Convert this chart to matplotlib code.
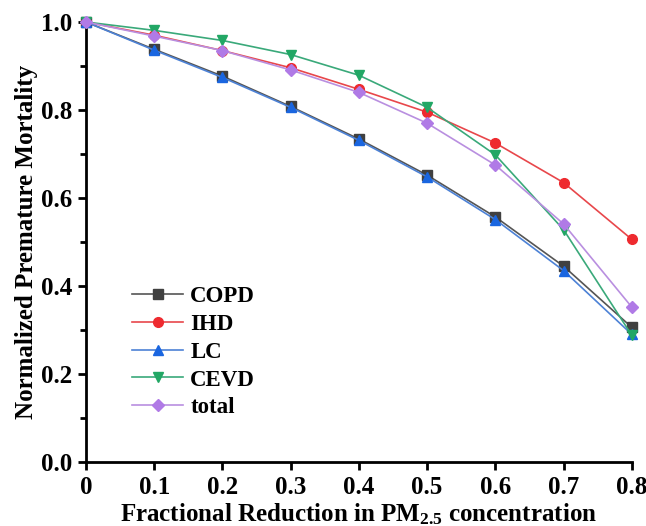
import matplotlib
matplotlib.use("Agg")
import matplotlib.pyplot as plt
from matplotlib.ticker import MultipleLocator

x = [0, 0.1, 0.2, 0.3, 0.4, 0.5, 0.6, 0.7, 0.8]
copd = [1.0, 0.938, 0.877, 0.808, 0.734, 0.652, 0.557, 0.445, 0.306]
ihd = [1.0, 0.970, 0.935, 0.896, 0.847, 0.795, 0.725, 0.635, 0.506]
lc = [1.0, 0.936, 0.874, 0.806, 0.731, 0.648, 0.551, 0.435, 0.290]
cevd = [1.0, 0.981, 0.958, 0.926, 0.879, 0.806, 0.698, 0.528, 0.288]
total = [1.0, 0.968, 0.935, 0.891, 0.840, 0.770, 0.675, 0.541, 0.352]

plt.rcParams['font.family'] = ['Liberation Serif', 'DejaVu Serif']
plt.rcParams['font.weight'] = 'bold'
plt.rcParams['mathtext.fontset'] = 'custom'
plt.rcParams['mathtext.rm'] = 'Liberation Serif:bold'
plt.rcParams['mathtext.bf'] = 'Liberation Serif:bold'
plt.rcParams['mathtext.it'] = 'Liberation Serif:bold'

fig = plt.figure(figsize=(6.46, 5.26), dpi=100)
ax = fig.add_axes([0.133, 0.1217, 0.845, 0.8365])

series = [
    ("COPD", copd, 's', '#555555', '#404040'),
    ("IHD", ihd, 'o', '#e8474b', '#ee2a2f'),
    ("LC", lc, '^', '#4d82d6', '#1a66e0'),
    ("CEVD", cevd, 'v', '#3aa97a', '#22a765'),
    ("total", total, 'D', '#b98fe0', '#b07ae6'),
]
for name, y, m, lcol, mcol in series:
    ax.plot(x, y, marker=m, color=lcol, markerfacecolor=mcol, markeredgecolor=mcol,
            lw=1.2, ms=7 if m != 'D' else 6, label=name, clip_on=False, zorder=3)

ax.set_xlim(0, 0.8)
ax.set_ylim(0, 1.0)
ax.yaxis.set_major_locator(MultipleLocator(0.2))
ax.yaxis.set_minor_locator(MultipleLocator(0.1))
ax.set_xticks(x)
ax.set_xticklabels(["0", "0.1", "0.2", "0.3", "0.4", "0.5", "0.6", "0.7", "0.8"])
ax.set_yticks([0, 0.2, 0.4, 0.6, 0.8, 1.0])
ax.set_yticklabels(["0.0", "0.2", "0.4", "0.6", "0.8", "1.0"])
for s in ['top', 'right']:
    ax.spines[s].set_visible(False)
for s in ['left', 'bottom']:
    ax.spines[s].set_linewidth(2)
ax.tick_params(axis='both', which='major', direction='out', length=6, width=2, labelsize=18, pad=4)
ax.tick_params(axis='y', which='minor', direction='out', length=4, width=2)
for lab in ax.get_xticklabels() + ax.get_yticklabels():
    lab.set_fontweight('bold')

ax.set_xlabel(r"Fractional Reduction in PM$_{2.5}$ concentration", fontsize=18, fontweight='bold', labelpad=2)
ax.set_ylabel("Normalized Premature Mortality", fontsize=18, fontweight='bold', labelpad=2)

leg = ax.legend(loc='lower left', bbox_to_anchor=(0.084, 0.099), frameon=False,
                prop={'size': 16.5, 'weight': 'bold'}, handlelength=2.25, handletextpad=0.3,
                labelspacing=0.3, borderaxespad=0, borderpad=0)

fig.savefig("out.png", dpi=100)
